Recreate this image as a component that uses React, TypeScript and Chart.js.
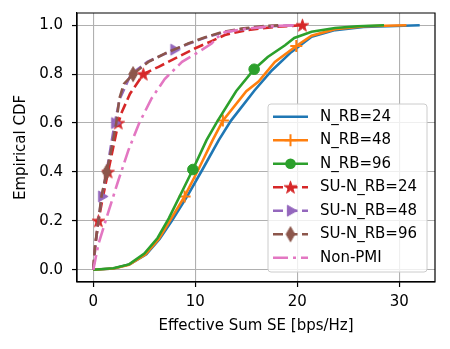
import React, { useEffect, useRef } from "react";
import { Chart, registerables } from "chart.js";

Chart.register(...registerables);

const FONT = '"DejaVu Sans", sans-serif';

// ---- data ----
const seriesLabels = ["N_RB=24", "N_RB=48", "N_RB=96", "SU-N_RB=24", "SU-N_RB=48", "SU-N_RB=96", "Non-PMI"];
const xTicks = [0, 10, 20, 30];
const yTicks = [0, 0.2, 0.4, 0.6, 0.8, 1.0];

const nrb24X = [0, 2.0, 3.6, 5.2, 6.5, 7.7, 9.2, 10.7, 12.3, 13.5, 15.8, 17.5, 19.4, 21.4, 23.7, 26.5, 32.0];
const nrb24Y = [0, 0.005, 0.023, 0.064, 0.126, 0.2, 0.3, 0.41, 0.53, 0.61, 0.733, 0.815, 0.89, 0.953, 0.98, 0.993, 1.0];
const nrb24Marks: number[] = [];

const nrb48X = [0, 2.0, 3.5, 5.1, 6.4, 7.5, 8.95, 10.3, 11.7, 12.7, 15.0, 16.2, 17.8, 19.9, 21.4, 23.7, 26.6, 30.7];
const nrb48Y = [0, 0.005, 0.02, 0.062, 0.125, 0.2, 0.3, 0.41, 0.53, 0.61, 0.73, 0.77, 0.85, 0.915, 0.957, 0.984, 0.996, 1.0];
const nrb48Marks = [0.3, 0.61, 0.915];

const nrb96X = [0, 1.95, 3.5, 5.0, 6.3, 7.4, 8.7, 9.76, 11.1, 12.2, 14.0, 15.77, 17.1, 18.8, 19.7, 21.4, 23.7, 25.9, 28.5];
const nrb96Y = [0, 0.006, 0.022, 0.066, 0.13, 0.21, 0.32, 0.41, 0.53, 0.61, 0.73, 0.82, 0.87, 0.918, 0.948, 0.973, 0.989, 0.996, 1.0];
const nrb96Marks = [0.41, 0.82];

const su24X = [0, 0.2, 0.5, 0.95, 1.45, 1.95, 2.45, 2.8, 3.6, 4.9, 6.4, 8.3, 9.95, 11.6, 12.9, 15.0, 17.8, 20.5];
const su24Y = [0, 0.1, 0.2, 0.3, 0.4, 0.5, 0.6, 0.645, 0.72, 0.8, 0.83, 0.87, 0.905, 0.935, 0.96, 0.98, 0.993, 1.0];
const su24Marks = [0.2, 0.4, 0.6, 0.8, 1.0];

const su48X = [0, 0.2, 0.5, 0.82, 1.3, 1.7, 2.1, 2.6, 3.7, 5.3, 7.9, 9.4, 11.0, 12.9, 15.0, 17.5, 19.8];
const su48Y = [0, 0.1, 0.2, 0.3, 0.4, 0.5, 0.6, 0.7, 0.8, 0.85, 0.9, 0.925, 0.95, 0.972, 0.986, 0.996, 1.0];
const su48Marks = [0.3, 0.6, 0.9];

const su96X = [0, 0.17, 0.5, 0.8, 1.3, 1.8, 2.25, 2.55, 3.0, 3.9, 5.4, 7.0, 9.3, 10.9, 12.6, 14.5, 16.5, 18.5];
const su96Y = [0, 0.1, 0.2, 0.3, 0.4, 0.5, 0.6, 0.7, 0.76, 0.8, 0.85, 0.884, 0.925, 0.95, 0.972, 0.986, 0.996, 1.0];
const su96Marks = [0.4, 0.8];

const nonPmiX = [0, 0.5, 1.5, 2.45, 3.45, 4.5, 5.7, 7.0, 8.7, 10.3, 11.6, 12.1, 12.9, 15.0, 17.5, 19.8];
const nonPmiY = [0, 0.105, 0.24, 0.365, 0.49, 0.6, 0.7, 0.78, 0.85, 0.89, 0.925, 0.948, 0.972, 0.986, 0.996, 1.0];
const nonPmiMarks: number[] = [];

const seriesXs = [nrb24X, nrb48X, nrb96X, su24X, su48X, su96X, nonPmiX];
const seriesYs = [nrb24Y, nrb48Y, nrb96Y, su24Y, su48Y, su96Y, nonPmiY];
const seriesMarks = [nrb24Marks, nrb48Marks, nrb96Marks, su24Marks, su48Marks, su96Marks, nonPmiMarks];

// ---- styles ----
const colors = ["#1f77b4", "#ff7f0e", "#2ca02c", "#d62728", "#9467bd", "#8c564b", "#e377c2"];
const dashes: number[][] = [[], [], [], [10, 4.5], [10, 4.5], [10, 4.5], [15, 5, 3, 5]];
const markerKinds = ["none", "plus", "circle", "star", "tri", "diamond", "none"];
const LW = 2.6;

function makeCanvas(w: number, h: number) {
  const c = document.createElement("canvas");
  c.width = w;
  c.height = h;
  return c;
}

function makeStar(color: string) {
  const s = 15;
  const c = makeCanvas(s, s);
  const ctx = c.getContext("2d")!;
  const cx = s / 2, cy = s / 2 + 0.5;
  const R = 6.6, r = R * 0.382;
  ctx.beginPath();
  for (let i = 0; i < 10; i++) {
    const a = -Math.PI / 2 + (i * Math.PI) / 5;
    const rr = i % 2 === 0 ? R : r;
    const px = cx + rr * Math.cos(a), py = cy + rr * Math.sin(a);
    if (i === 0) ctx.moveTo(px, py); else ctx.lineTo(px, py);
  }
  ctx.closePath();
  ctx.fillStyle = color;
  ctx.fill();
  ctx.strokeStyle = color;
  ctx.lineWidth = 1;
  ctx.stroke();
  return c;
}

function makeTri(color: string) {
  const s = 15;
  const c = makeCanvas(s, s);
  const ctx = c.getContext("2d")!;
  const cx = s / 2, cy = s / 2;
  const R = 6.3;
  ctx.beginPath();
  for (let i = 0; i < 3; i++) {
    const a = (i * 2 * Math.PI) / 3;
    const px = cx + R * Math.cos(a), py = cy + R * Math.sin(a);
    if (i === 0) ctx.moveTo(px, py); else ctx.lineTo(px, py);
  }
  ctx.closePath();
  ctx.fillStyle = color;
  ctx.fill();
  ctx.strokeStyle = color;
  ctx.lineWidth = 1;
  ctx.stroke();
  return c;
}

function makeDiamond(color: string) {
  const w = 12, h = 18;
  const c = makeCanvas(w, h);
  const ctx = c.getContext("2d")!;
  const cx = w / 2, cy = h / 2;
  const hw = 4.3, hh = 7.5;
  ctx.beginPath();
  ctx.moveTo(cx, cy - hh);
  ctx.lineTo(cx + hw, cy);
  ctx.lineTo(cx, cy + hh);
  ctx.lineTo(cx - hw, cy);
  ctx.closePath();
  ctx.fillStyle = color;
  ctx.fill();
  ctx.strokeStyle = color;
  ctx.lineWidth = 1;
  ctx.stroke();
  return c;
}

function markerStyle(kind: string, color: string): any {
  if (kind === "plus") return "cross";
  if (kind === "circle") return "circle";
  if (kind === "star") return makeStar(color);
  if (kind === "tri") return makeTri(color);
  if (kind === "diamond") return makeDiamond(color);
  return "circle";
}

function markerRadius(kind: string) {
  if (kind === "plus") return 6;
  if (kind === "circle") return 5.3;
  if (kind === "none") return 0;
  return 5;
}

const framePlugin = {
  id: "frameAndLegend",
  afterDraw(chart: any) {
    const ctx = chart.ctx as CanvasRenderingContext2D;
    const a = chart.chartArea;
    ctx.save();
    // spines
    ctx.strokeStyle = "#000";
    ctx.lineWidth = 1.2;
    ctx.beginPath();
    ctx.rect(a.left, a.top, a.right - a.left, a.bottom - a.top);
    ctx.stroke();

    // legend
    const bx = 268, by = 104, bw = 159, bh = 168, rad = 3;
    ctx.beginPath();
    ctx.moveTo(bx + rad, by);
    ctx.lineTo(bx + bw - rad, by);
    ctx.quadraticCurveTo(bx + bw, by, bx + bw, by + rad);
    ctx.lineTo(bx + bw, by + bh - rad);
    ctx.quadraticCurveTo(bx + bw, by + bh, bx + bw - rad, by + bh);
    ctx.lineTo(bx + rad, by + bh);
    ctx.quadraticCurveTo(bx, by + bh, bx, by + bh - rad);
    ctx.lineTo(bx, by + rad);
    ctx.quadraticCurveTo(bx, by, bx + rad, by);
    ctx.closePath();
    ctx.fillStyle = "rgba(255,255,255,0.8)";
    ctx.fill();
    ctx.strokeStyle = "#cccccc";
    ctx.lineWidth = 1;
    ctx.stroke();

    const x0 = 273, x1 = 308, xm = (x0 + x1) / 2;
    seriesLabels.forEach((label, i) => {
      const y = 116.7 + i * 23.5;
      const color = colors[i];
      ctx.save();
      ctx.strokeStyle = color;
      ctx.lineWidth = LW;
      ctx.setLineDash(dashes[i]);
      ctx.beginPath();
      ctx.moveTo(x0, y);
      ctx.lineTo(x1, y);
      ctx.stroke();
      ctx.restore();
      const kind = markerKinds[i];
      if (kind === "circle") {
        ctx.beginPath();
        ctx.arc(xm, y, 5.3, 0, Math.PI * 2);
        ctx.fillStyle = color;
        ctx.fill();
      } else if (kind === "plus") {
        ctx.strokeStyle = color;
        ctx.lineWidth = 2;
        ctx.beginPath();
        ctx.moveTo(xm - 6, y);
        ctx.lineTo(xm + 6, y);
        ctx.moveTo(xm, y - 6);
        ctx.lineTo(xm, y + 6);
        ctx.stroke();
      } else if (kind !== "none") {
        const img = markerStyle(kind, color) as HTMLCanvasElement;
        ctx.drawImage(img, xm - img.width / 2, y - img.height / 2);
      }
      ctx.fillStyle = "#000";
      ctx.font = `15px ${FONT}`;
      ctx.textBaseline = "middle";
      ctx.textAlign = "left";
      ctx.fillText(label, 320, y);
    });
    ctx.restore();
  },
};

export default function App() {
  const ref = useRef<HTMLCanvasElement | null>(null);

  useEffect(() => {
    if (!ref.current) return;
    const datasets = seriesLabels.map((label, i) => {
      const marks = seriesMarks[i];
      const kind = markerKinds[i];
      const style = markerStyle(kind, colors[i]);
      const data = seriesXs[i].map((x, j) => ({ x, y: seriesYs[i][j] }));
      return {
        label,
        data,
        order: -i,
        borderColor: colors[i],
        backgroundColor: colors[i],
        borderWidth: LW,
        borderDash: dashes[i],
        tension: 0,
        fill: false,
        pointStyle: style,
        pointRotation: 0,
        pointBorderColor: colors[i],
        pointBackgroundColor: colors[i],
        pointBorderWidth: kind === "plus" ? 2 : 1,
        pointRadius: (c: any) => (c.raw && marks.includes(c.raw.y) ? markerRadius(kind) : 0),
        pointHoverRadius: (c: any) => (c.raw && marks.includes(c.raw.y) ? markerRadius(kind) : 0),
        pointHitRadius: 0,
      };
    });

    const chart = new Chart(ref.current, {
      type: "line",
      data: { datasets } as any,
      options: {
        animation: false,
        responsive: false,
        events: [],
        layout: { padding: { top: 13, right: 15, bottom: 0, left: 0 } },
        plugins: { legend: { display: false }, tooltip: { enabled: false } },
        scales: {
          x: {
            type: "linear",
            min: -1.6,
            max: 33.5,
            afterBuildTicks: (s: any) => {
              s.ticks = xTicks.map((v) => ({ value: v }));
            },
            afterFit: (s: any) => {
              s.height = 67;
              s.paddingLeft = 0;
              s.paddingRight = 0;
              s.paddingTop = 0;
              s.paddingBottom = 0;
            },
            ticks: {
              padding: 6,
              color: "#000",
              font: { family: FONT, size: 15 },
              maxRotation: 0,
              autoSkip: false,
              callback: (v: any) => String(v),
            },
            grid: { color: "#b0b0b0", lineWidth: 1.1, tickColor: "#000", tickLength: 5, tickWidth: 1.2, drawTicks: true },
            border: { display: true, color: "#000", width: 1.2 },
            title: {
              display: true,
              text: "Effective Sum SE [bps/Hz]",
              color: "#000",
              font: { family: FONT, size: 15 },
              padding: { top: 0, bottom: 14 },
            },
          },
          y: {
            type: "linear",
            min: -0.05,
            max: 1.05,
            afterBuildTicks: (s: any) => {
              s.ticks = yTicks.map((v) => ({ value: v }));
            },
            afterFit: (s: any) => {
              s.width = 77;
              s.paddingLeft = 0;
              s.paddingRight = 0;
              s.paddingTop = 0;
              s.paddingBottom = 0;
            },
            ticks: {
              padding: 9,
              color: "#000",
              font: { family: FONT, size: 15 },
              autoSkip: false,
              callback: (v: any) => Number(v).toFixed(1),
            },
            grid: { color: "#b0b0b0", lineWidth: 1.1, tickColor: "#000", tickLength: 5, tickWidth: 1.2, drawTicks: true },
            border: { display: true, color: "#000", width: 1.2 },
            title: {
              display: true,
              text: "Empirical CDF",
              color: "#000",
              font: { family: FONT, size: 15 },
              padding: { top: 12, bottom: 0 },
            },
          },
        },
      } as any,
      plugins: [framePlugin],
    });
    return () => chart.destroy();
  }, []);

  return (
    <div style={{ position: "absolute", left: 0, top: 0, width: 450, height: 349, background: "#fff" }}>
      <canvas ref={ref} width={450} height={349} style={{ display: "block" }} />
    </div>
  );
}
